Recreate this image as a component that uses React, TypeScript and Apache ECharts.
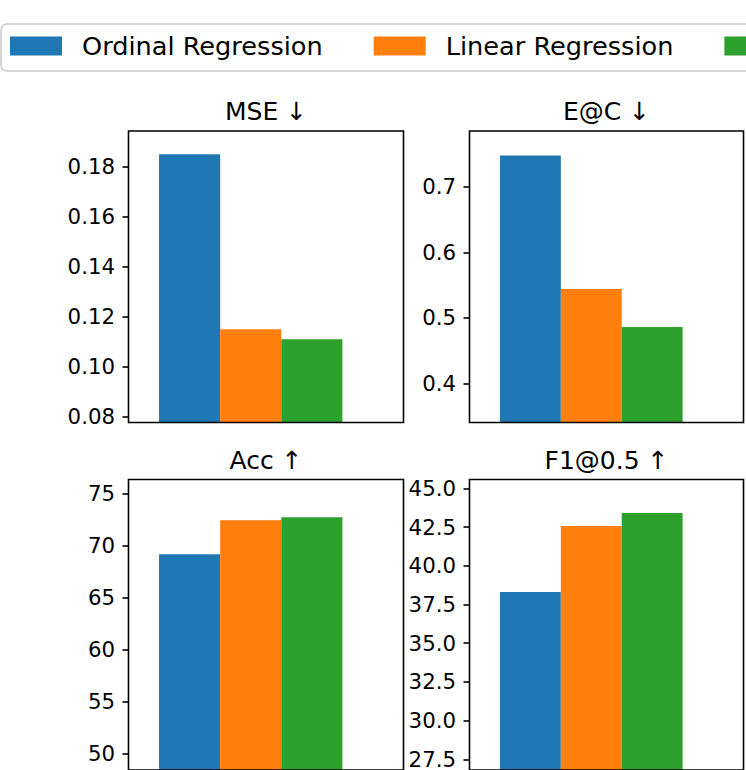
import React, { useEffect, useRef } from 'react';
import * as echarts from 'echarts';

// ---------- data ----------
const methods = ['Ordinal Regression', 'Linear Regression', 'Ordinal + Linear Regression'];
const methodColors = ['#1f77b4', '#ff7f0e', '#2ca02c'];
const metricTitles = ['MSE \u2193', 'E@C \u2193', 'Acc \u2191', 'F1@0.5 \u2191'];
const mseValues = [0.185, 0.115, 0.111];
const eacValues = [0.748, 0.544, 0.486];
const accValues = [69.2, 72.45, 72.74];
const f1Values = [38.3, 42.56, 43.4];
const mseTickLabels = ['0.08', '0.10', '0.12', '0.14', '0.16', '0.18'];
const eacTickLabels = ['0.4', '0.5', '0.6', '0.7'];
const accTickLabels = ['50', '55', '60', '65', '70', '75'];
const f1TickLabels = ['27.5', '30.0', '32.5', '35.0', '37.5', '40.0', '42.5', '45.0'];

// ---------- layout ----------
const W = 746;
const H = 770;
const FONT = 'DejaVu Sans';
const panelValues = [mseValues, eacValues, accValues, f1Values];
const panelTicks = [mseTickLabels, eacTickLabels, accTickLabels, f1TickLabels];
const gridBoxes = [
  { left: 128.5, top: 131, width: 275, height: 291.5 },
  { left: 469.5, top: 131, width: 274, height: 291.5 },
  { left: 128.5, top: 479.5, width: 275, height: 291.5 },
  { left: 469.5, top: 479.5, width: 274, height: 291.5 },
];
const X_SPAN = 4.5; // axis width in bar widths
const GROUP_CENTER = 2; // centre of the bar group, in bar widths from the left edge

function buildOption() {
  const grid = gridBoxes.map((g) => ({
    ...g,
    show: true,
    borderColor: '#000',
    borderWidth: 1.6,
    backgroundColor: 'transparent',
    z: 10,
    containLabel: false,
  }));
  const xAxis = gridBoxes.map((_, i) => ({
    type: 'value',
    gridIndex: i,
    min: 0,
    max: X_SPAN,
    show: false,
  }));
  const yAxis = panelValues.map((vals, i) => {
    const labels = panelTicks[i];
    const nums = labels.map(Number);
    return {
      type: 'value',
      gridIndex: i,
      min: Math.min(...vals) * 0.7,
      max: Math.max(...vals) * 1.05,
      splitLine: { show: false },
      axisLine: { show: false },
      axisTick: {
        show: true,
        length: 6,
        customValues: nums,
        lineStyle: { color: '#000', width: 1.6 },
      },
      axisLabel: {
        show: true,
        margin: 13.5,
        customValues: nums,
        color: '#000',
        fontSize: 21.3,
        fontFamily: FONT,
        formatter: (v: number) => {
          const hit = labels.find((l) => Math.abs(Number(l) - v) < 1e-9);
          return hit ?? '';
        },
      },
    };
  });
  const series: any[] = [];
  panelValues.forEach((vals, i) => {
    vals.forEach((v, j) => {
      series.push({
        type: 'bar',
        name: methods[j],
        xAxisIndex: i,
        yAxisIndex: i,
        data: [[GROUP_CENTER, v]],
        barWidth: `${100 / X_SPAN}%`,
        barGap: '0%',
        itemStyle: { color: methodColors[j] },
        emphasis: { disabled: true },
        silent: true,
      });
    });
  });
  const graphic = gridBoxes.map((g, i) => ({
    type: 'text',
    x: g.left + g.width / 2,
    y: g.top - 19.5,
    style: {
      text: metricTitles[i],
      fill: '#000',
      fontSize: 25,
      fontFamily: FONT,
      textAlign: 'center',
      textVerticalAlign: 'middle',
    },
  }));
  return {
    animation: false,
    backgroundColor: '#fff',
    color: methodColors,
    legend: {
      left: 1,
      top: 24,
      width: 1600,
      orient: 'horizontal',
      icon: 'rect',
      itemWidth: 52,
      itemHeight: 19,
      itemGap: 51,
      padding: [9, 12, 12, 9],
      borderColor: '#cccccc',
      borderWidth: 1.6,
      borderRadius: 6,
      backgroundColor: '#fff',
      selectedMode: false,
      data: methods,
      textStyle: {
        fontSize: 25.6,
        fontFamily: FONT,
        color: '#000',
        padding: [0, 0, 0, 15],
      },
    },
    grid,
    xAxis,
    yAxis,
    series,
    graphic,
  };
}

export default function App() {
  const ref = useRef<HTMLDivElement>(null);
  useEffect(() => {
    if (!ref.current) return;
    const chart = echarts.init(ref.current, undefined, { renderer: 'svg' });
    chart.setOption(buildOption() as any);
    return () => chart.dispose();
  }, []);
  return (
    <div
      ref={ref}
      style={{ position: 'fixed', left: 0, top: 0, width: W, height: H, background: '#fff' }}
    />
  );
}
